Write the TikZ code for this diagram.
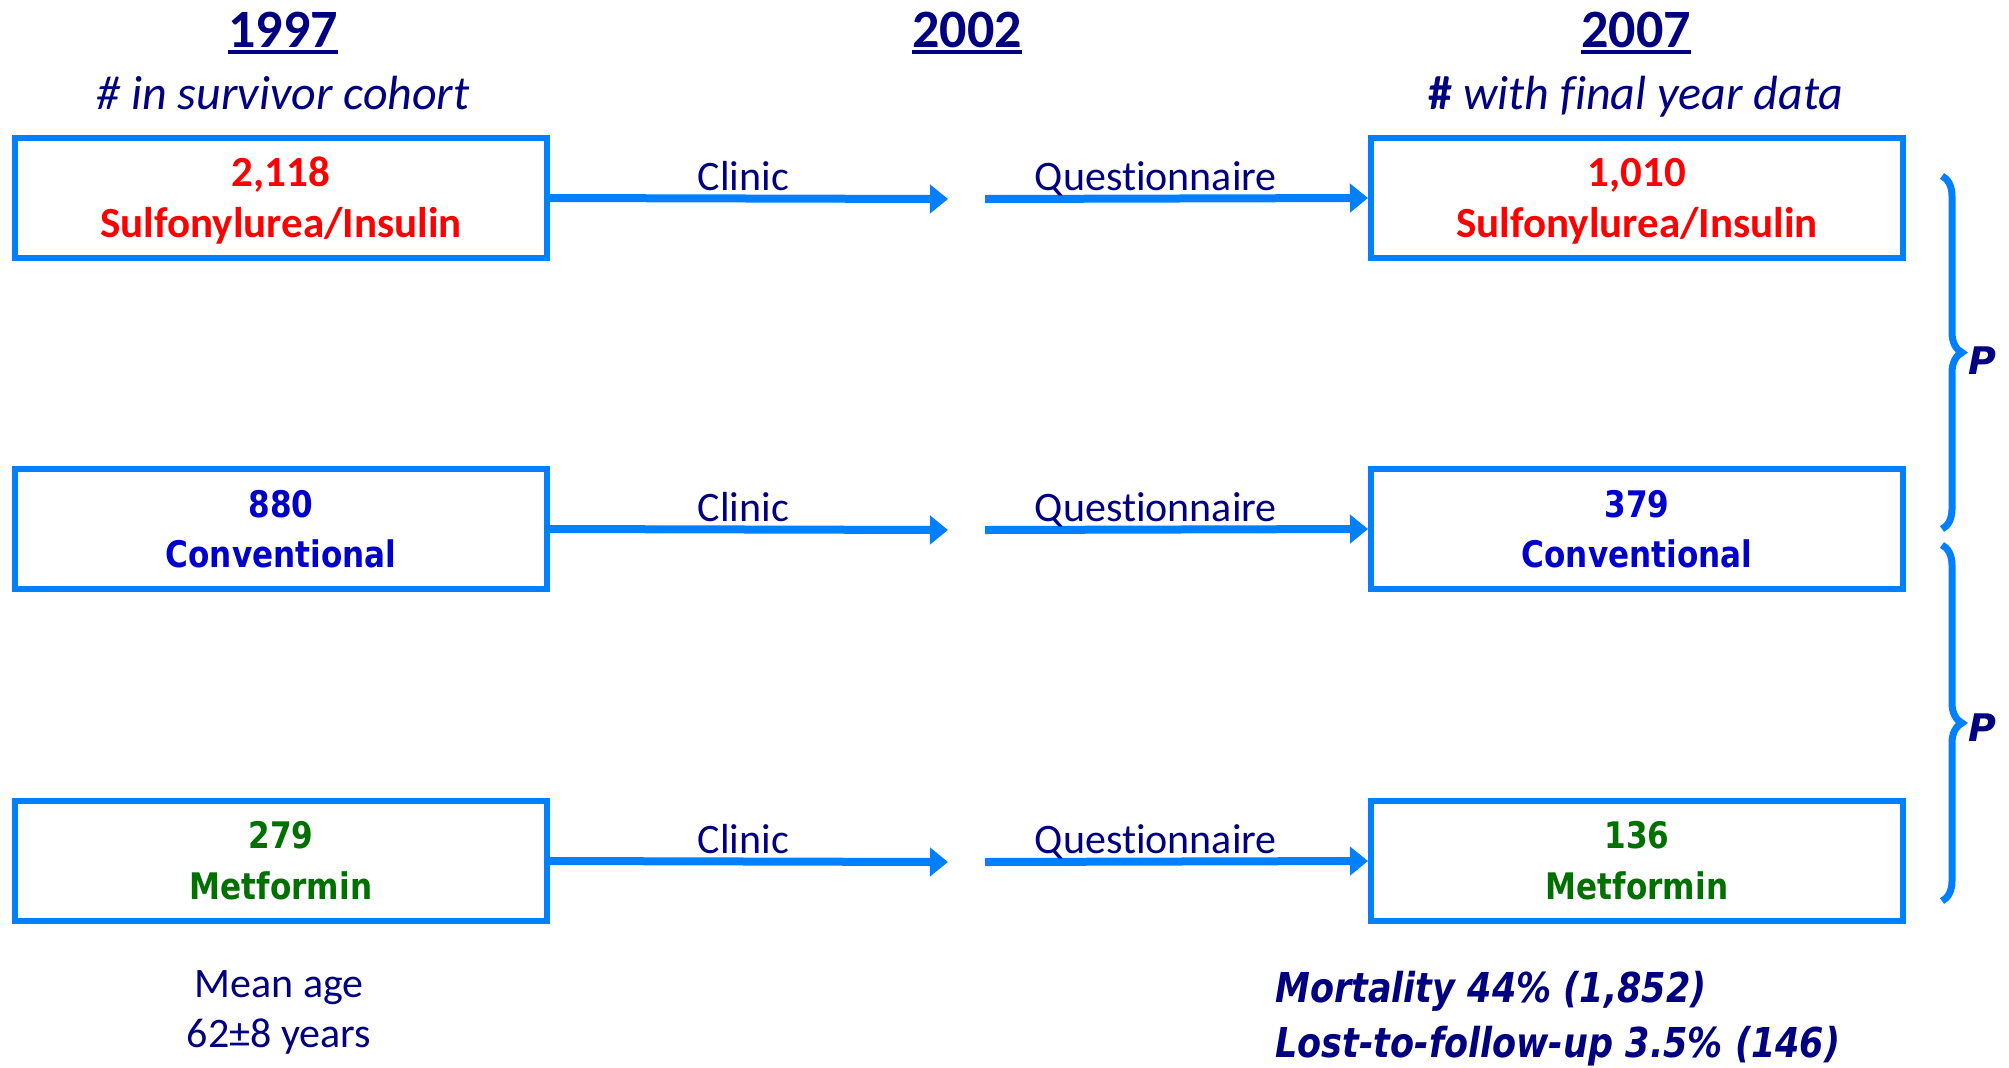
\documentclass[tikz,border=0pt]{standalone}
\usepackage{fontspec}
\setmainfont[Ligatures=NoCommon]{Carlito}
\newfontfamily\dvs[FakeStretch=0.85]{DejaVu Sans}
\newfontfamily\dvp{DejaVu Sans}
\usetikzlibrary{arrows.meta,decorations.pathreplacing}
\definecolor{lblue}{RGB}{0,128,255}
\definecolor{navy}{RGB}{0,0,128}
\definecolor{cred}{RGB}{255,0,0}
\definecolor{cblue}{RGB}{0,0,204}
\definecolor{cgreen}{RGB}{0,112,0}
\newcommand\myul[1]{\setbox0\hbox{#1}\rlap{\rule[-3.5pt]{\wd0}{2pt}}\box0}
\begin{document}
\begin{tikzpicture}[x=0.5pt,y=-0.5pt,
  box/.style={draw=lblue, line width=3pt, minimum width=266pt, minimum height=60pt, inner sep=0pt},
  hdr/.style={anchor=base, inner sep=0pt, text=navy, font=\fontsize{27}{30}\selectfont\bfseries},
  sub/.style={anchor=base, inner sep=0pt, text=navy, font=\fontsize{24}{28}\selectfont},
  num/.style={anchor=base, inner sep=0pt, font=\fontsize{21.5}{25}\selectfont\bfseries},
  numd/.style={anchor=base, inner sep=0pt, font=\fontsize{18.3}{21}\selectfont\dvs\bfseries},
  lbl/.style={anchor=base, inner sep=0pt, yshift=4pt, text=navy, font=\fontsize{21}{24}\selectfont},
  plain/.style={anchor=base, inner sep=0pt, text=navy, font=\fontsize{21}{24}\selectfont},
  mort/.style={anchor=base west, inner sep=0pt, text=navy, font=\fontsize{20.6}{24}\selectfont\dvs\bfseries\itshape},
  pval/.style={inner sep=0pt, text=navy, font=\fontsize{19}{22}\selectfont\dvp\bfseries\itshape},
  arr/.style={draw=lblue, line width=4pt, -{Triangle[length=9pt,width=14pt]}},
  brc/.style={draw=lblue, line width=3.5pt, decorate, decoration={brace, amplitude=10pt}}
]
\useasboundingbox (0,0) rectangle (2009,1067);

% headers
\node[hdr] (h97) at (283,47) {\myul{1997}};
\node[hdr] (h02) at (967,47) {\myul{2002}};
\node[hdr] (h07) at (1636,47) {\myul{2007}};
\node[sub] (c97) at (283,109) {\itshape\# in survivor cohort};
\node[sub] (c07) at (1636,109) {{\bfseries\#} \itshape with final year data};

% boxes
\node[box] (s97) at (281,198) {};
\node[box] (v97) at (281,529) {};
\node[box] (m97) at (281,861) {};
\node[box] (s07) at (1637,198) {};
\node[box] (v07) at (1637,529) {};
\node[box] (m07) at (1637,861) {};

% box texts
\node[num, text=cred] (s97n) at (281,186) {2,118};
\node[num, text=cred] (s97l) at (281,237) {Sulfonylurea/Insulin};
\node[numd, text=cblue] (v97n) at (281,517) {880};
\node[numd, text=cblue] (v97l) at (281,567) {Conventional};
\node[numd, text=cgreen] (m97n) at (281,848) {279};
\node[numd, text=cgreen] (m97l) at (281,899) {Metformin};
\node[num, text=cred] (s07n) at (1637,186) {1,010};
\node[num, text=cred] (s07l) at (1637,237) {Sulfonylurea/Insulin};
\node[numd, text=cblue] (v07n) at (1637,517) {379};
\node[numd, text=cblue] (v07l) at (1637,567) {Conventional};
\node[numd, text=cgreen] (m07n) at (1637,848) {136};
\node[numd, text=cgreen] (m07l) at (1637,899) {Metformin};

% midpoints
\coordinate (a1) at (948,199);
\coordinate (b1) at (985,199);
\coordinate (a2) at (948,530);
\coordinate (b2) at (985,530);
\coordinate (a3) at (948,862);
\coordinate (b3) at (985,862);

\draw[arr] (s97.east) -- node[lbl, pos=.486] (cl1) {Clinic} (a1);
\draw[arr] (b1) -- node[lbl, pos=.446] (qu1) {Questionnaire} (s07.west);
\draw[arr] (v97.east) -- node[lbl, pos=.486] (cl2) {Clinic} (a2);
\draw[arr] (b2) -- node[lbl, pos=.446] (qu2) {Questionnaire} (v07.west);
\draw[arr] (m97.east) -- node[lbl, pos=.486] (cl3) {Clinic} (a3);
\draw[arr] (b3) -- node[lbl, pos=.446] (qu3) {Questionnaire} (m07.west);

% braces
\coordinate (bt1) at (1942,176);
\coordinate (bb1) at (1942,529);
\coordinate (bt2) at (1942,545);
\coordinate (bb2) at (1942,901);
\draw[brc] (bt1) -- (bb1);
\draw[brc] (bt2) -- (bb2);
\node[pval] (p1) at (1982,361) {P};
\node[pval] (p2) at (1982,728) {P};

% bottom texts
\node[plain] (ma1) at (279,997) {Mean age};
\node[plain] (ma2) at (279,1047) {62±8 years};
\node[mort] (mo1) at (1275,1002) {Mortality 44\% (1,852)};
\node[mort] (mo2) at (1275,1057) {Lost-to-follow-up 3.5\% (146)};
\end{tikzpicture}
\end{document}
